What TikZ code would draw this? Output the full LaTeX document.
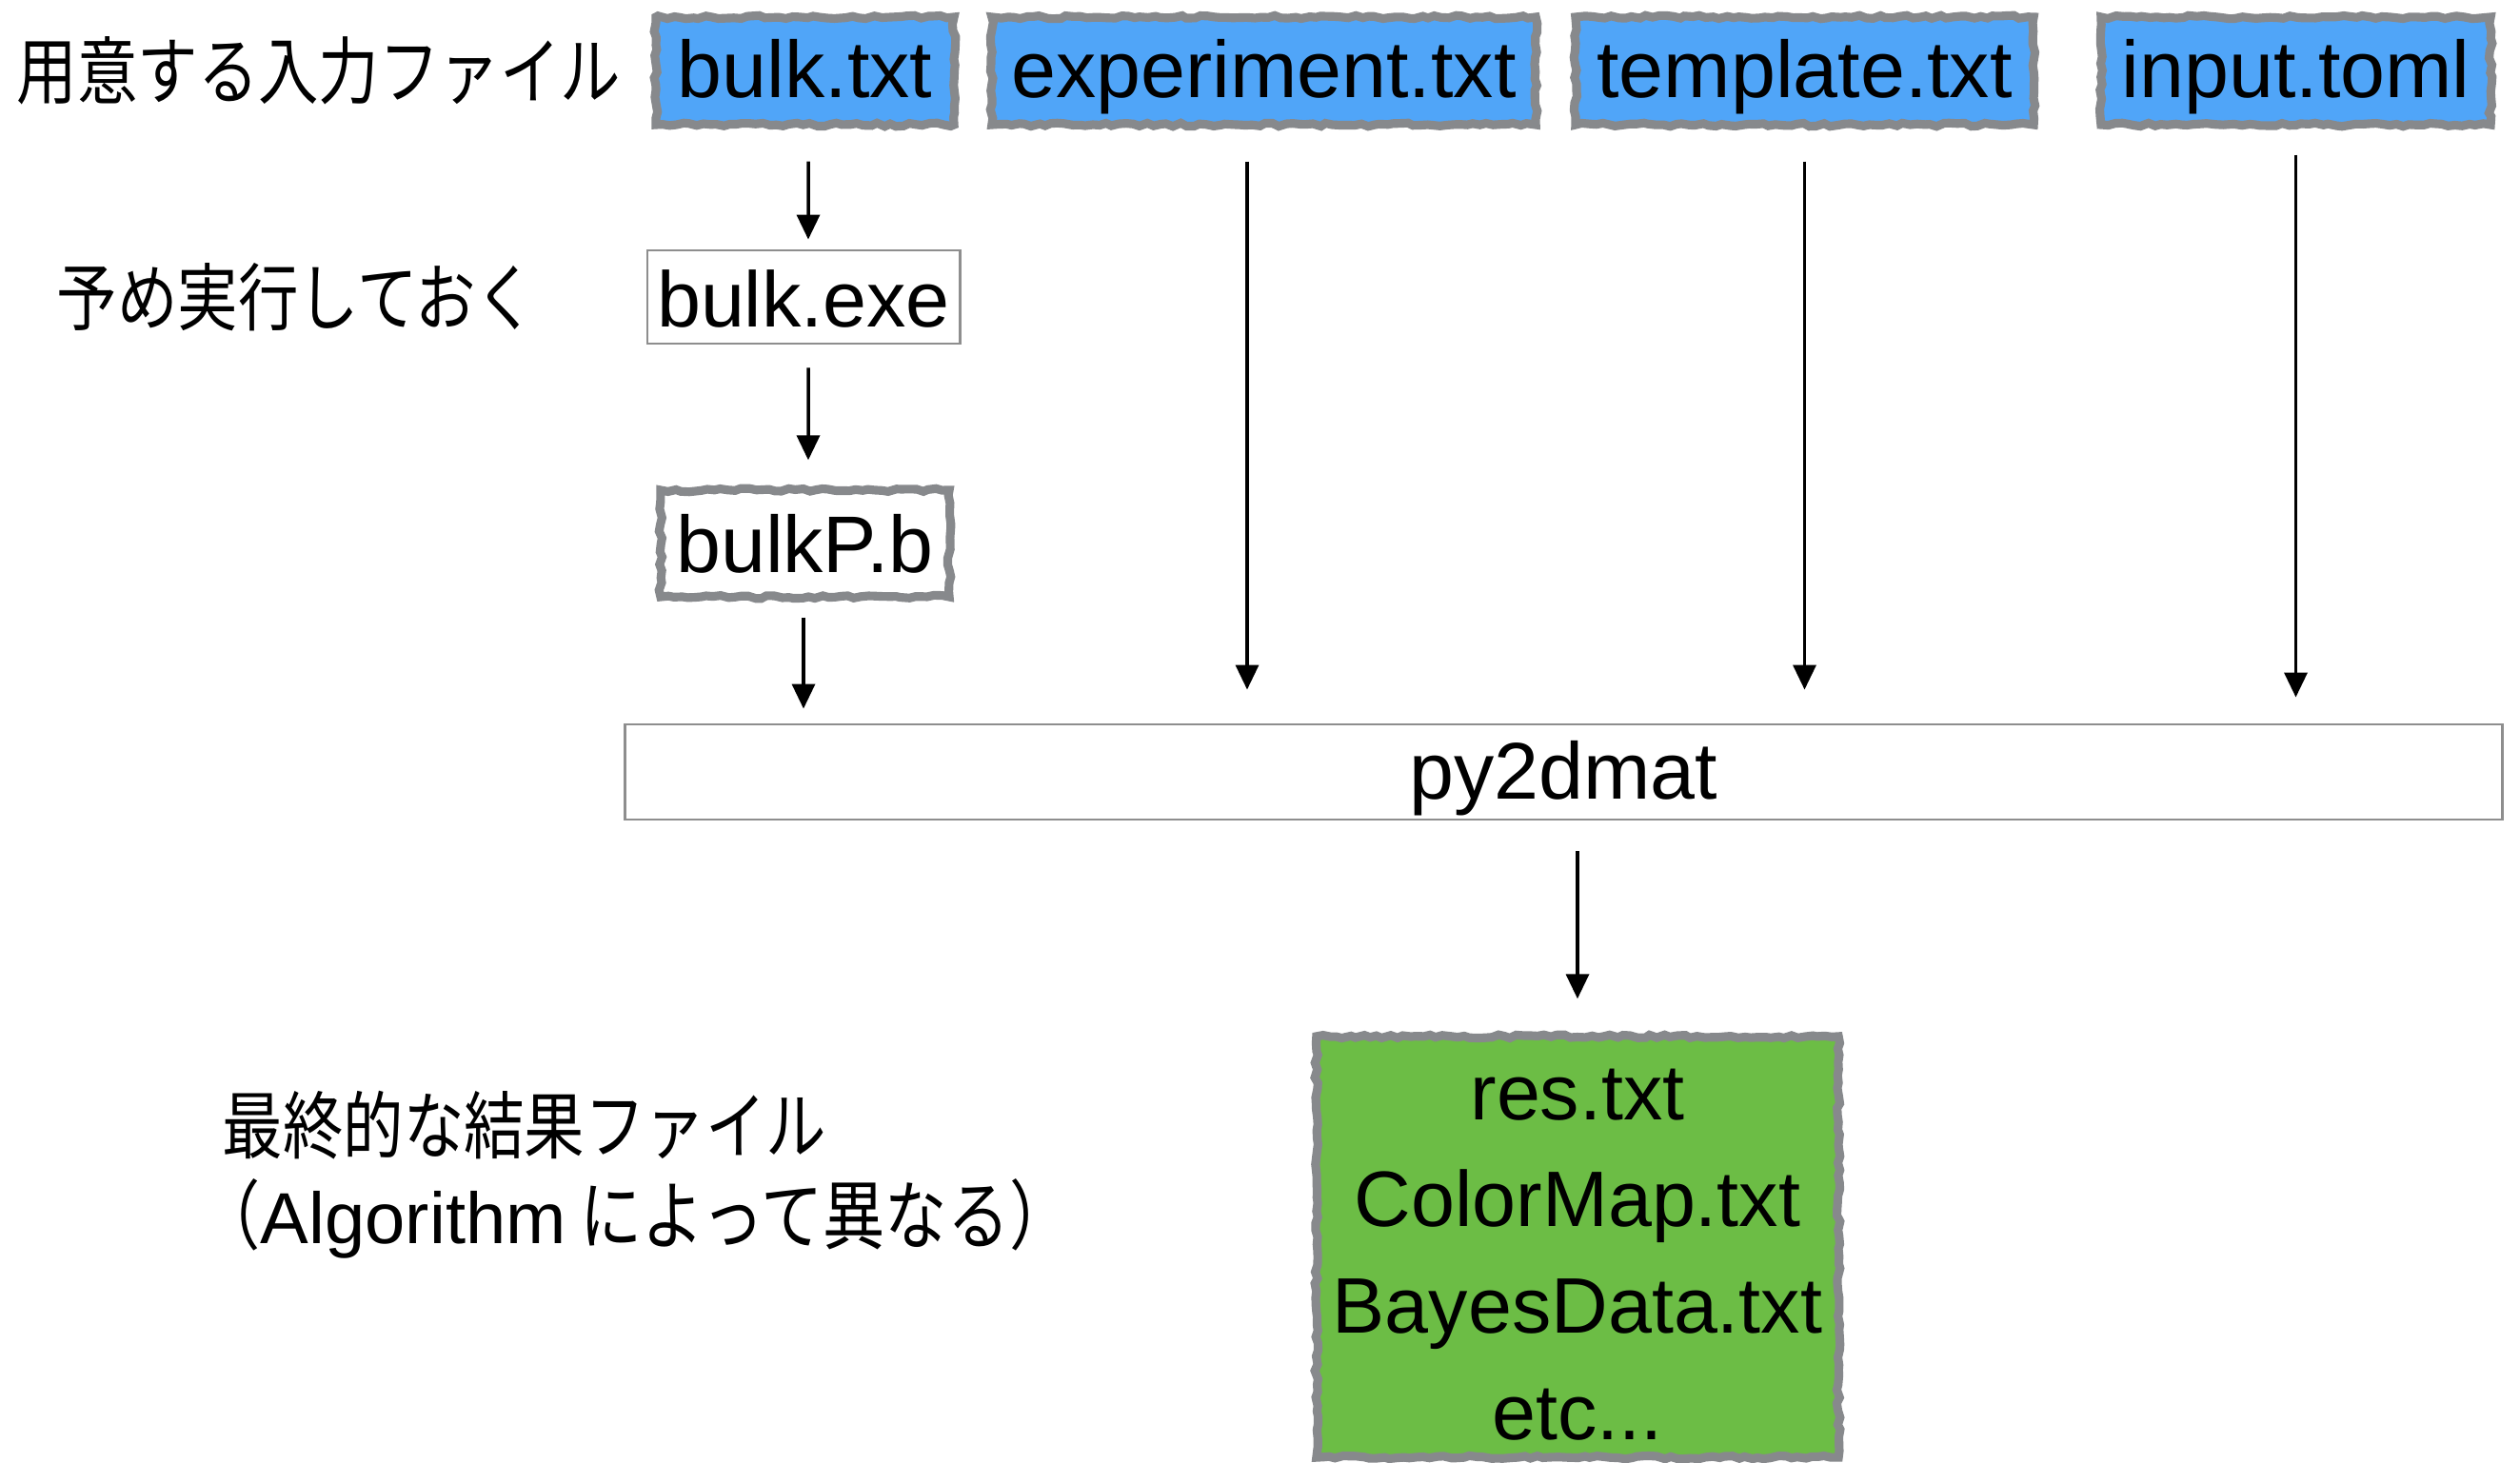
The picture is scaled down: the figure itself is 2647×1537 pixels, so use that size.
\documentclass[tikz,border=0pt]{standalone}
\usepackage{fontspec}
\setmainfont{Liberation Sans}
\newfontfamily\jp[FakeStretch=0.82]{Noto Sans CJK JP}
\usetikzlibrary{arrows.meta,decorations.pathmorphing,calc}
\definecolor{fileblue}{HTML}{50A5F8}
\definecolor{resgreen}{HTML}{6CBD45}
\definecolor{roughgray}{HTML}{87898C}
\definecolor{thingray}{HTML}{8E8E8E}
\begin{document}
\begin{tikzpicture}[x=0.01cm,y=-0.01cm,
  latin/.style={font=\fontsize{24}{29}\selectfont, text height=16pt, text depth=0pt},
  roughbox/.style={draw=roughgray, line width=2.6pt, inner sep=0pt,
    decorate, decoration={random steps,segment length=2pt,amplitude=0.5pt}},
  infile/.style={roughbox, latin, fill=fileblue, minimum height=1.13cm},
  thinbox/.style={draw=thingray, line width=0.8pt, inner sep=0pt, latin},
  arr/.style={-{Triangle[length=0.26cm,width=0.24cm]}, line width=1pt},
  jplabel/.style={anchor=west, inner sep=0pt, font=\jp\fontsize{22}{26}\selectfont}]
\pgfmathsetseed{7}
\path[use as bounding box] (0,0) rectangle (2647,1537);

% labels
\node[jplabel] (l1) at (17,74) {用意する入力ファイル};
\node[jplabel] (l2) at (59,312) {予め実行しておく};
\node[jplabel] (l3) at (233,1182) {最終的な結果ファイル};
\node[jplabel, font=\jp\fontsize{22.6}{26}\selectfont] (l4) at (208,1280)
  {（{\rmfamily\fontsize{21.6}{26}\selectfont Algorithm} によって異なる）};

% input files
\node[infile, minimum width=3.13cm] (bulk) at (845.5,74.5) {bulk.txt};
\node[infile, minimum width=5.71cm] (exp) at (1327.5,74.5) {experiment.txt};
\node[infile, minimum width=4.81cm] (tmpl) at (1895.5,74.5) {template.txt};
\node[infile, minimum width=4.09cm] (inp) at (2411.5,74.5) {input.toml};

% intermediate
\node[thinbox, minimum width=3.28cm, minimum height=0.98cm, text height=18pt,
  font=\fontsize{23.5}{29}\selectfont] (exe) at (844,312) {bulk.exe};
\node[roughbox, latin, text height=17.5pt, fill=white, minimum width=3.03cm, minimum height=1.12cm] (bp) at (845.5,571) {bulkP.b};
\node[thinbox, minimum width=19.71cm, minimum height=1.0cm, text height=16.4pt] (py) at (1642.5,811) {py2dmat};

% result
\node[roughbox, fill=resgreen, minimum width=5.48cm, minimum height=4.42cm] (res) at (1657,1310) {};
\node[align=center, inner sep=0pt, font=\fontsize{23.5}{31.8}\selectfont] (restext)
  at ([yshift=-0.08cm]res.center) {res.txt\\ColorMap.txt\\BayesData.txt\\etc...};

% connectors
\draw[arr, shorten <=0.34cm, shorten >=0.1cm] ([xshift=0.035cm]bulk.south) -- ([xshift=0.05cm]exe.north);
\draw[arr, shorten <=0.24cm, shorten >=0.27cm] ([xshift=0.05cm]exe.south) -- ([xshift=0.035cm]bp.north);
\draw[arr, shorten <=0.17cm, shorten >=0.15cm] ([xshift=-0.015cm]bp.south) -- ([xshift=-0.015cm]bp.south |- py.north);
\draw[arr, shorten <=0.34cm, shorten >=0.35cm] ([xshift=-0.175cm]exp.south) -- ([xshift=-0.175cm]exp.south |- py.north);
\draw[arr, shorten <=0.34cm, shorten >=0.35cm] (tmpl.south) -- (tmpl.south |- py.north);
\draw[arr, shorten <=0.27cm, shorten >=0.27cm] (inp.south) -- (inp.south |- py.north);
\draw[arr, shorten <=0.32cm, shorten >=0.35cm] (py.south -| res.north) -- (res.north);
\end{tikzpicture}
\end{document}
